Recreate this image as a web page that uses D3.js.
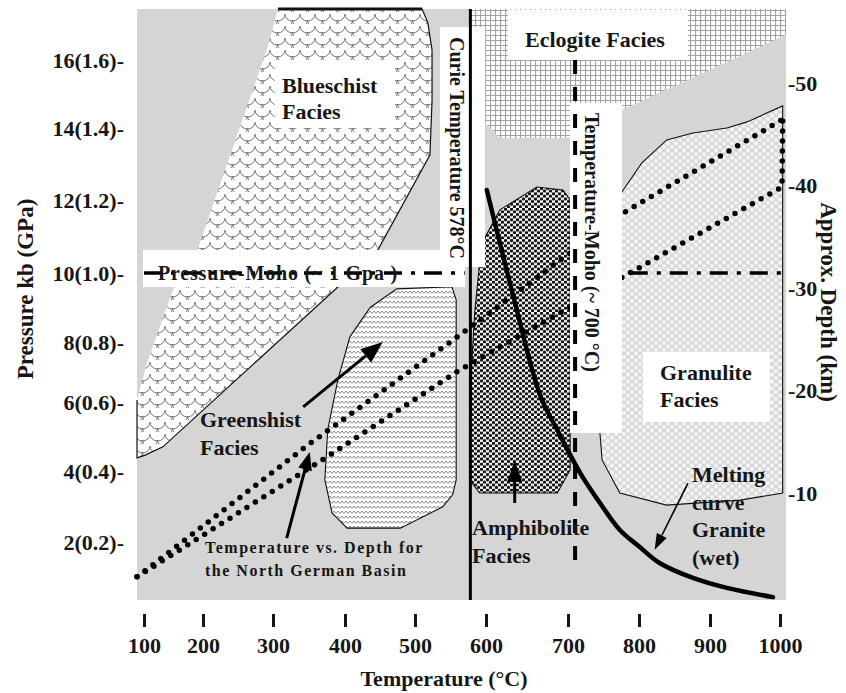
<!DOCTYPE html>
<html>
<head>
<meta charset="utf-8">
<title>Metamorphic facies - North German Basin</title>
<script src="https://d3js.org/d3.v7.min.js"></script>
<style>
  body { margin: 0; background: #fff; }
  svg text { font-family: "Liberation Serif", "Times New Roman", serif; font-weight: bold; fill: #161616; }
</style>
</head>
<body>
<svg id="chart" width="846" height="693"></svg>
<script>
// tick values
const tempTicks = [100, 200, 300, 400, 500, 600, 700, 800, 900, 1000];
const pressTicks = [2, 4, 6, 8, 10, 12, 14, 16];
const depthTicks = [-10, -20, -30, -40, -50];

// facies fields, [temperature °C, pressure kb]
const blueschist = [[307, 17.5], [510, 17.5], [518, 17.1], [524, 16.3], [524, 14.8], [521, 13.25], [446, 10.6],
  [132, 4.7], [102, 4.46], [88, 4.38], [88, 6.07], [105, 7.3], [149, 9.5], [190, 10.6], [291, 16.3]];
const eclogite = [[578, 17.5], [1009, 17.5], [1009, 16.74], [776, 14.53], [700, 13.72], [617, 13.72],
  [599, 14.15], [599, 16.97], [578, 16.97]];
const granulite = [[773, 12.14], [804, 13.03], [839, 13.67], [876, 13.86], [924, 14.0], [953, 14.18],
  [1004, 14.65], [1004, 3.38], [943, 3.18], [839, 3.04], [773, 3.38], [748, 4.32], [745, 5.1], [745, 12.14]];
const greenschist = [[474, 9.54], [552, 9.6], [558, 9.22], [558, 3.75], [553, 3.33], [539, 2.99], [479, 2.39],
  [403, 2.39], [382, 2.82], [372, 3.75], [376, 5.19], [390, 6.73], [407, 8.15], [436, 9.0]];
const amphibolite = [[599, 10.99], [617, 11.73], [662, 12.36], [694, 12.28], [703, 12.0], [703, 4.03],
  [687, 3.38], [591, 3.38], [577, 3.75], [580, 7.3], [584, 8.84], [591, 10.27]];

// melting curve of wet granite
const meltingCurve = [[601, 12.28], [633, 9.36], [666, 6.23], [687, 5.19], [717, 3.95], [745, 3.1], [773, 2.34],
  [801, 1.86], [829, 1.41], [876, 0.99], [924, 0.71], [990, 0.45]];

// temperature vs depth, North German Basin (two geotherms)
const geothermHigh = [[88, 1.02], [347, 4.73], [563, 8.2], [780, 11.67], [1003, 14.24]];
const geothermLow = [[88, 1.02], [375, 4.41], [563, 7.07], [844, 10.63], [1003, 12.36], [1004, 14.24]];

// reference lines
const curieT = 578;
const mohoT = 710;
const mohoTRange = [1.44, 16];
const mohoP = 10;
const mohoPSegments = [[100, 570], [787, 1004]];

// annotation arrows [from, to]
const arrowPts = [
  [[342, 5.86], [454, 8.0]],    // greenshist
  [[319, 2.11], [351, 4.55]],   // geotherm label
  [[635, 3.1], [635, 4.32]],    // amphibolite
  [[869, 3.66], [822, 1.78]]    // melting curve
];

const svg = d3.select("#chart");

// scanned figure: tick spacing is uneven, so piecewise scales
const x = d3.scaleLinear()
  .domain([88, ...tempTicks, 1009])
  .range([137, 144, 203, 273, 345, 415, 486, 568, 639, 710, 780, 786]);
const y = d3.scaleLinear()
  .domain([0.37, ...pressTicks, 17.5])
  .range([600, 542, 471, 402, 342, 273, 200, 128, 60, 9]);
const depth = d3.scaleLinear().domain([-10, -50]).range([493, 83]);

const line = d3.line().x(d => x(d[0])).y(d => y(d[1]));
const poly = pts => line(pts) + "Z";

// patterns
const defs = svg.append("defs");

const pScale = defs.append("pattern").attr("id", "scales").attr("patternUnits", "userSpaceOnUse")
  .attr("width", 15).attr("height", 12);
pScale.append("rect").attr("width", 15).attr("height", 12).attr("fill", "#fff");
pScale.append("path")
  .attr("d", "M0,2 A7.5,7 0 0 0 15,2 M-7.5,8 A7.5,7 0 0 0 7.5,8 M7.5,8 A7.5,7 0 0 0 22.5,8")
  .attr("fill", "none").attr("stroke", "#707070").attr("stroke-width", 1);

const pGrid = defs.append("pattern").attr("id", "grid").attr("patternUnits", "userSpaceOnUse")
  .attr("width", 5).attr("height", 5);
pGrid.append("rect").attr("width", 5).attr("height", 5).attr("fill", "#fff");
pGrid.append("path").attr("d", "M0,0.5H5M0.5,0V5").attr("stroke", "#a2a2a2").attr("stroke-width", 1.2);

const pWave = defs.append("pattern").attr("id", "waves").attr("patternUnits", "userSpaceOnUse")
  .attr("width", 8).attr("height", 5);
pWave.append("rect").attr("width", 8).attr("height", 5).attr("fill", "#fff");
pWave.append("path").attr("d", "M0,3.5 L2,1 L4,3.5 L6,1 L8,3.5")
  .attr("fill", "none").attr("stroke", "#7a7a7a").attr("stroke-width", 0.9);

const pDots = defs.append("pattern").attr("id", "dots").attr("patternUnits", "userSpaceOnUse")
  .attr("width", 6).attr("height", 5.2);
pDots.append("rect").attr("width", 6).attr("height", 5.2).attr("fill", "#fff");
[[1.5, 1.3], [4.5, 3.9]].forEach(c => pDots.append("circle")
  .attr("cx", c[0]).attr("cy", c[1]).attr("r", 1.65).attr("fill", "#111"));

const pBub = defs.append("pattern").attr("id", "bubbles").attr("patternUnits", "userSpaceOnUse")
  .attr("width", 8).attr("height", 7);
pBub.append("rect").attr("width", 8).attr("height", 7).attr("fill", "#e3e3e3");
[[0, 0], [8, 0], [0, 7], [8, 7], [4, 3.5]].forEach(c => pBub.append("circle")
  .attr("cx", c[0]).attr("cy", c[1]).attr("r", 2.8)
  .attr("fill", "#f3f3f3").attr("stroke", "#cdcdcd").attr("stroke-width", 0.8));

// background
svg.append("rect")
  .attr("x", x(88)).attr("y", y(17.5))
  .attr("width", x(1009) - x(88)).attr("height", y(0.37) - y(17.5))
  .attr("fill", "#d5d5d5");

// facies fields
svg.append("path").attr("d", poly(eclogite)).attr("fill", "url(#grid)");
svg.append("path").attr("d", poly(blueschist)).attr("fill", "url(#scales)");
svg.append("path").attr("d", line(blueschist.slice(0, 11)))
  .attr("fill", "none").attr("stroke", "#111").attr("stroke-width", 1.2);
svg.append("path").attr("d", line(blueschist.slice(0, 2)))
  .attr("stroke", "#111").attr("stroke-width", 3);
svg.append("path").attr("d", poly(granulite)).attr("fill", "url(#bubbles)")
  .attr("stroke", "#111").attr("stroke-width", 1.1);
svg.append("path").attr("d", poly(greenschist)).attr("fill", "url(#waves)")
  .attr("stroke", "#111").attr("stroke-width", 1.1);
svg.append("path").attr("d", poly(amphibolite)).attr("fill", "url(#dots)")
  .attr("stroke", "#111").attr("stroke-width", 1.1);

// geotherms (dotted)
[geothermHigh, geothermLow].forEach(g => {
  svg.append("path").attr("d", line(g))
    .attr("fill", "none").attr("stroke", "#000").attr("stroke-width", 5.5)
    .attr("stroke-linecap", "round").attr("stroke-dasharray", "0 10");
});

// white label boxes
const boxes = [
  [440, 27, 485, 267],   // curie
  [143, 250, 465, 287],  // pressure-moho
  [570, 103, 622, 433],  // temperature-moho
  [275, 60, 395, 128],   // blueschist
  [508, 10, 688, 60],    // eclogite
  [643, 352, 770, 422]   // granulite
];
svg.selectAll("rect.box").data(boxes).join("rect").attr("class", "box")
  .attr("x", d => d[0]).attr("y", d => d[1])
  .attr("width", d => d[2] - d[0]).attr("height", d => d[3] - d[1])
  .attr("fill", "#fff");

// pressure moho, dash-dot
mohoPSegments.forEach(s => {
  svg.append("line")
    .attr("x1", x(s[0])).attr("x2", x(s[1])).attr("y1", y(mohoP)).attr("y2", y(mohoP))
    .attr("stroke", "#000").attr("stroke-width", 3.5).attr("stroke-dasharray", "18 9 4 9");
});

// temperature moho, dashed
svg.append("line")
  .attr("x1", x(mohoT)).attr("x2", x(mohoT)).attr("y1", y(mohoTRange[1])).attr("y2", y(mohoTRange[0]))
  .attr("stroke", "#000").attr("stroke-width", 4).attr("stroke-dasharray", "14 13");

// curie temperature
svg.append("line")
  .attr("x1", x(curieT)).attr("x2", x(curieT)).attr("y1", y(17.5)).attr("y2", y(0.37))
  .attr("stroke", "#000").attr("stroke-width", 3);

// melting curve
svg.append("path")
  .attr("d", line.curve(d3.curveCatmullRom)(meltingCurve))
  .attr("fill", "none").attr("stroke", "#000").attr("stroke-width", 4.5).attr("stroke-linecap", "round");
line.curve(d3.curveLinear);

// arrows
const arrowStyle = [
  { w: 3, len: 22, head: 17 },
  { w: 3, len: 18, head: 14 },
  { w: 3, len: 22, head: 15 },
  { w: 1.6, len: 16, head: 11 }
];
arrowPts.forEach((a, i) => {
  const st = arrowStyle[i];
  const x1 = x(a[0][0]), y1 = y(a[0][1]), x2 = x(a[1][0]), y2 = y(a[1][1]);
  const ang = Math.atan2(y2 - y1, x2 - x1);
  const bx = x2 - st.len * Math.cos(ang), by = y2 - st.len * Math.sin(ang);
  const hx = st.head / 2 * Math.sin(ang), hy = st.head / 2 * Math.cos(ang);
  svg.append("line").attr("x1", x1).attr("y1", y1).attr("x2", bx).attr("y2", by)
    .attr("stroke", "#000").attr("stroke-width", st.w);
  svg.append("path")
    .attr("d", `M${x2},${y2}L${bx + hx},${by - hy}L${bx - hx},${by + hy}Z`)
    .attr("fill", "#000");
});

// labels
function label(lines, x0, y0, size, dyLine, extra) {
  const t = svg.append("text").attr("font-size", size);
  if (extra) t.attr("letter-spacing", extra);
  lines.forEach((s, i) => t.append("tspan").attr("x", x0).attr("y", y0 + i * dyLine).text(s));
  return t;
}
label(["Blueschist", "Facies"], 282, 93, 22, 26);
label(["Eclogite Facies"], 525, 47, 22, 0);
label(["Granulite", "Facies"], 660, 380, 22, 27);
label(["Greenshist", "Facies"], 200, 427, 22, 28);
label(["Amphibolite", "Facies"], 472, 535, 22, 28);
label(["Melting", "curve", "Granite", "(wet)"], 692, 482, 22, 27.5);
label(["Temperature vs. Depth for", "the North German Basin"], 205, 553, 16, 23, 1.5);
label(["Pressure-Moho (~ 1 Gpa )"], 158, 280, 20, 0, 0.8);

svg.append("text").attr("font-size", 20)
  .attr("transform", "translate(450,37) rotate(90)")
  .text("Curie Temperature 578°C");
svg.append("text").attr("font-size", 20)
  .attr("transform", "translate(585,113) rotate(90)")
  .text("Temperature-Moho (~ 700 °C)");

// axes
const xAxis = svg.append("g").attr("transform", "translate(0,614)")
  .call(d3.axisBottom(x).tickValues(tempTicks).tickSize(0).tickFormat(d => String(d)));
xAxis.select(".domain").remove();
xAxis.attr("font-size", 22);
xAxis.selectAll(".tick text").attr("y", 39).attr("dy", 0);
xAxis.selectAll(".tick").append("line")
  .attr("y1", 0).attr("y2", 13).attr("stroke", "#161616").attr("stroke-width", 3);

const yAxis = svg.append("g").attr("transform", "translate(124,0)")
  .call(d3.axisLeft(y).tickValues(pressTicks).tickSize(0)
    .tickFormat(d => `${d}(${(d / 10).toFixed(1)})-`));
yAxis.select(".domain").remove();
yAxis.attr("font-size", 22);
yAxis.selectAll(".tick text").attr("x", 0);

const dAxis = svg.append("g").attr("transform", "translate(788,0)")
  .call(d3.axisRight(depth).tickValues(depthTicks).tickSize(0).tickFormat(d => String(d)));
dAxis.select(".domain").remove();
dAxis.attr("font-size", 22);
dAxis.selectAll(".tick text").attr("x", 0);

// axis titles
svg.append("text").attr("font-size", 22).attr("text-anchor", "middle")
  .attr("x", 444).attr("y", 686).text("Temperature (°C)");
svg.append("text").attr("font-size", 23).attr("text-anchor", "middle")
  .attr("transform", "translate(33,289) rotate(-90)").text("Pressure kb (GPa)");
svg.append("text").attr("font-size", 23).attr("text-anchor", "middle")
  .attr("transform", "translate(821,302) rotate(90)").text("Approx. Depth (km)");
</script>
</body>
</html>
